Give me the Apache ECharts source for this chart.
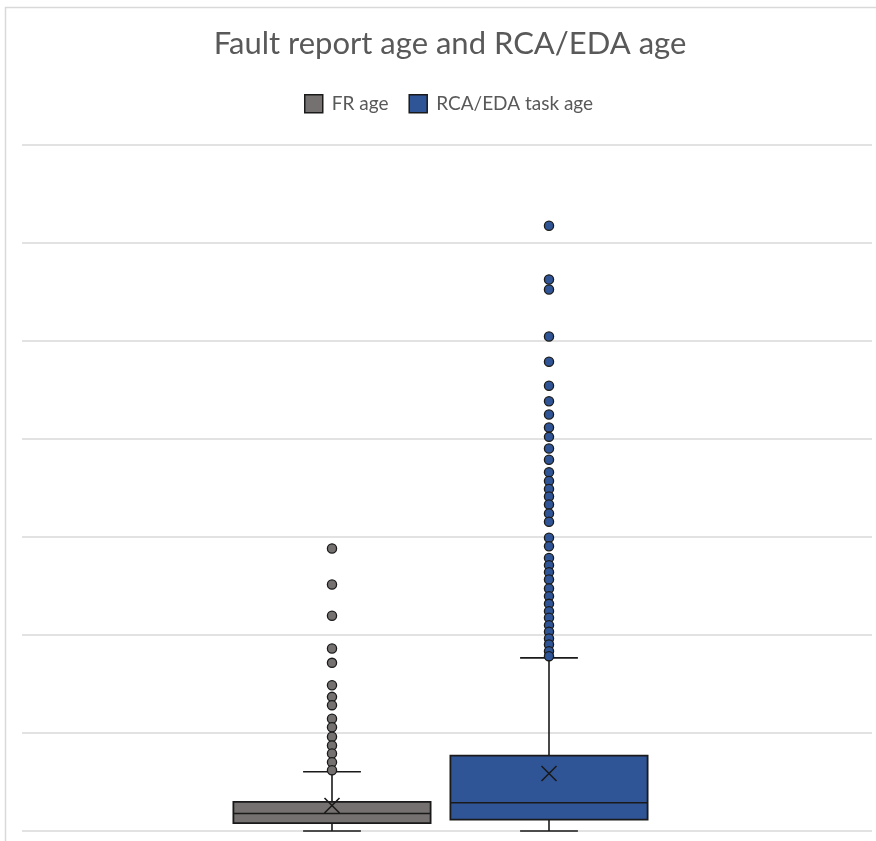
<!DOCTYPE html>
<html>
<head>
<meta charset="utf-8">
<title>Fault report age and RCA/EDA age</title>
<script src="https://cdn.jsdelivr.net/npm/echarts@6/dist/echarts.min.js"></script>
<style>
  html, body { margin: 0; padding: 0; background: #ffffff; }
  #chart { width: 876px; height: 841px; }
</style>
</head>
<body>
<div id="chart"></div>
<script>
// Series names (also the legend entries)
const seriesNames = ['FR age', 'RCA/EDA task age'];

// Five-number summaries: [lower whisker, Q1, median, Q3, upper whisker]
const frStats = [0, 8.0, 17.9, 29.8, 60.4];
const rcaStats = [0, 11.7, 28.8, 77.0, 176.7];

// Means (drawn as X markers)
const frMean = 26.0;
const rcaMean = 58.7;

// Outliers above the upper whisker
const frOutliers = [288.3, 251.5, 219.6, 186.2, 171.6, 148.8, 136.9, 128.4, 114.5,
  105.9, 96.1, 87.2, 79.1, 70.2, 62.0];
const rcaOutliers = [617.6, 562.8, 552.6, 504.6, 478.8, 454.3, 438.5, 425.0, 411.7,
  402.2, 390.3, 378.8, 366.0, 357.1, 349.0, 341.3, 333.2, 324.0, 315.5, 299.2, 290.6,
  278.5, 271.1, 264.0, 256.6, 247.4, 239.6, 231.8, 224.3, 217.6, 210.0, 203.3, 196.4,
  190.3, 183.5, 178.4];

// Value-axis range
const yMin = 0, yMax = 700, yStep = 100;

// Layout of the two boxes within the single category band
const SLOT_OFFSET = [-0.1353, 0.12];
const BOX_FRAC = 0.232;
const CAP_FRAC = 0.068;
const EDGE = '#1a1a1a';
const COLORS = ['#767171', '#2F5597'];

function boxRenderer(slot, color) {
  return function (params, api) {
    const band = api.size([1, 0])[0];
    const cat = api.value(0);
    const cx = api.coord([cat, 0])[0] + band * SLOT_OFFSET[slot];
    const y = (i) => api.coord([cat, api.value(i)])[1];
    const yLo = y(1), yQ1 = y(2), yMed = y(3), yQ3 = y(4), yHi = y(5), yMean = y(6);
    const half = band * BOX_FRAC / 2;
    const cap = band * CAP_FRAC / 2;
    const m = 7.5;
    const line = (x1, y1, x2, y2) => ({
      type: 'line', shape: { x1, y1, x2, y2 },
      style: { stroke: EDGE, lineWidth: 1.6 }
    });
    return {
      type: 'group',
      children: [
        line(cx, yQ3, cx, yHi), line(cx - cap, yHi, cx + cap, yHi),
        line(cx, yQ1, cx, yLo), line(cx - cap, yLo, cx + cap, yLo),
        {
          type: 'rect',
          shape: { x: cx - half, y: yQ3, width: half * 2, height: yQ1 - yQ3 },
          style: { fill: color, stroke: EDGE, lineWidth: 1.8 }
        },
        line(cx - half, yMed, cx + half, yMed),
        line(cx - m, yMean - m, cx + m, yMean + m),
        line(cx - m, yMean + m, cx + m, yMean - m)
      ]
    };
  };
}

function outlierRenderer(slot, color) {
  return function (params, api) {
    const band = api.size([1, 0])[0];
    const p = api.coord([api.value(0), api.value(1)]);
    return {
      type: 'circle',
      shape: { cx: p[0] + band * SLOT_OFFSET[slot], cy: p[1], r: 4.6 },
      style: { fill: color, stroke: EDGE, lineWidth: 1.3 }
    };
  };
}

const groups = [
  { stats: frStats, mean: frMean, outliers: frOutliers },
  { stats: rcaStats, mean: rcaMean, outliers: rcaOutliers }
];

const series = [];
groups.forEach((g, i) => {
  series.push({
    name: seriesNames[i],
    type: 'custom',
    itemStyle: { color: COLORS[i] },
    renderItem: boxRenderer(i, COLORS[i]),
    encode: { x: 0, y: [1, 2, 3, 4, 5, 6] },
    data: [[0].concat(g.stats, [g.mean])],
    z: 2
  });
});
groups.forEach((g, i) => {
  series.push({
    name: seriesNames[i],
    type: 'custom',
    itemStyle: { color: COLORS[i] },
    renderItem: outlierRenderer(i, COLORS[i]),
    encode: { x: 0, y: 1 },
    data: g.outliers.map(v => [0, v]),
    z: 3
  });
});

const chart = echarts.init(document.getElementById('chart'), null, { renderer: 'canvas' });
chart.setOption({
  backgroundColor: '#ffffff',
  animation: false,
  title: {
    text: 'Fault report age and RCA/EDA age',
    left: 445,
    textAlign: 'center',
    top: 23,
    textStyle: { fontFamily: 'Lato', fontSize: 31, fontWeight: 'normal', color: '#595959' }
  },
  legend: {
    left: 299,
    top: 89,
    itemWidth: 18,
    itemHeight: 18,
    itemGap: 20,
    icon: 'rect',
    textStyle: { fontFamily: 'Lato', fontSize: 19, color: '#595959', padding: [0, 0, 0, 4] },
    data: seriesNames.map((n, i) => ({
      name: n,
      itemStyle: { color: COLORS[i], borderColor: EDGE, borderWidth: 1.5 }
    }))
  },
  graphic: [{
    type: 'rect',
    shape: { x: 5.5, y: 7.5, width: 1000, height: 1000 },
    style: { fill: 'none', stroke: '#d9d9d9', lineWidth: 1.5 },
    silent: true,
    z: -10
  }],
  grid: { left: 22, right: 4, top: 145, bottom: 10 },
  xAxis: {
    type: 'category',
    data: [''],
    axisLine: { show: false },
    axisTick: { show: false },
    axisLabel: { show: false },
    splitLine: { show: false }
  },
  yAxis: {
    type: 'value',
    min: yMin,
    max: yMax,
    interval: yStep,
    axisLine: { show: false },
    axisTick: { show: false },
    axisLabel: { show: false },
    splitLine: { show: true, lineStyle: { color: '#d9d9d9', width: 1.5 } }
  },
  series: series
});
</script>
</body>
</html>
